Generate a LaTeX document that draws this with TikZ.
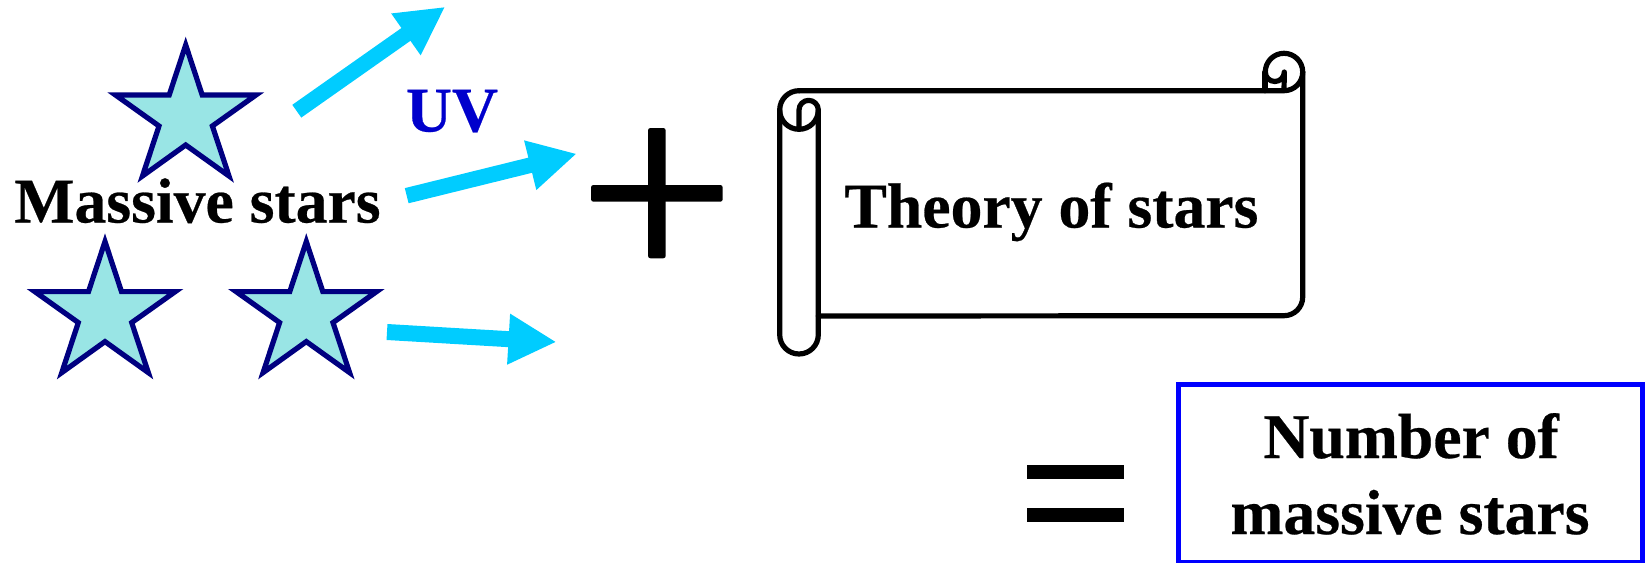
\documentclass[tikz,border=0pt]{standalone}
\usepackage{fontspec}
\setmainfont[Ligatures=NoCommon,BoldFeatures={FakeBold=0.4}]{Liberation Serif}
\usetikzlibrary{arrows.meta}
\definecolor{starfill}{HTML}{99E5E5}
\definecolor{starline}{HTML}{000080}
\definecolor{uvarrow}{HTML}{00CCFF}
\definecolor{uvtext}{HTML}{0000CC}
\definecolor{boxline}{HTML}{0000FF}
\tikzset{
  label text/.style={inner sep=0pt,anchor=base west,font=\fontsize{31.85}{38}\selectfont\bfseries,text=black},
  star shape/.style={fill=starfill,draw=starline,line width=2.6pt,miter limit=10,line join=miter},
  uv arrow/.style={draw=uvarrow,line width=#1,-{Triangle[length=24pt,width=23.7pt,fill=uvarrow]}},
  scroll line/.style={draw=black,line width=2.6pt,line join=round,line cap=round},
  box line/.style={draw=boxline,line width=2.6pt,inner sep=0pt,minimum width=232pt,minimum height=88.85pt},
  bar/.style={fill=black,rounded corners=1.2pt},
  pics/massive star/.style={code={
    \path[star shape] (185.7,45) -- (202.2,95) -- (256,95) -- (212.4,126) -- (229,176)
      -- (185.7,145) -- (142.5,176) -- (159,126) -- (115.5,95) -- (169.2,95) -- cycle;
  }}
}
\begin{document}
\begin{tikzpicture}[x=0.5pt,y=-0.5pt]
\useasboundingbox (0,0) rectangle (1648,562);
% stars
\pic (topstar) at (0,0) {massive star};
\pic (leftstar) at (-80.7,196.6) {massive star};
\pic (rightstar) at (120.6,196.6) {massive star};
% labels
\node[label text] (massive) at (14,222.5) {Massive stars};
\node[label text,text=uvtext] (uv) at (405.6,131.5) {UV};
\node[label text] (theory) at (844,227.5) {Theory of stars};
% UV arrows
\coordinate (a1s) at (296.8,111.2);
\coordinate (a1e) at (445.2,6.8);
\coordinate (a2s) at (406.7,195.7);
\coordinate (a2e) at (576.8,153.7);
\coordinate (a3s) at (387,332);
\coordinate (a3e) at (556.5,342);
\draw[uv arrow=7.8pt] (a1s) -- (a1e);
\draw[uv arrow=7.8pt] (a2s) -- (a2e);
\draw[uv arrow=8pt] (a3s) -- (a3e);
% plus
\path[bar] (648,128) rectangle (665.7,258.3);
\path[bar] (591,185) rectangle (722.7,201.7);
% scroll
\draw[scroll line] (799,90.7) -- (1284,90.7)
  arc[start angle=-90,end angle=180,radius=9.35pt]
  arc[start angle=180,end angle=360,radius=4.75pt] -- (1284,90.7);
\draw[scroll line] (1265,72) -- (1265,90.7);
\draw[scroll line] (1302.7,72) -- (1302.7,297)
  arc[start angle=0,end angle=-90,radius=9.35pt] -- (818.3,316);
\draw[scroll line] (799,90.7)
  arc[start angle=90,end angle=360,radius=9.65pt]
  arc[start angle=0,end angle=180,radius=4.825pt] -- (799,129.3);
\draw[scroll line] (779.7,110) -- (779.7,334.7)
  arc[start angle=180,end angle=360,radius=9.65pt] -- (818.3,110);
% equals
\fill[black] (1026.7,465) rectangle (1124,478.7);
\fill[black] (1026.7,508.3) rectangle (1124,521.7);
% result box
\node[box line] (resultbox) at (1410.5,473.65) {};
\node[label text] (number) at (1263,458) {Number of};
\node[label text] (massivestars) at (1230,534) {massive stars};
\end{tikzpicture}
\end{document}
